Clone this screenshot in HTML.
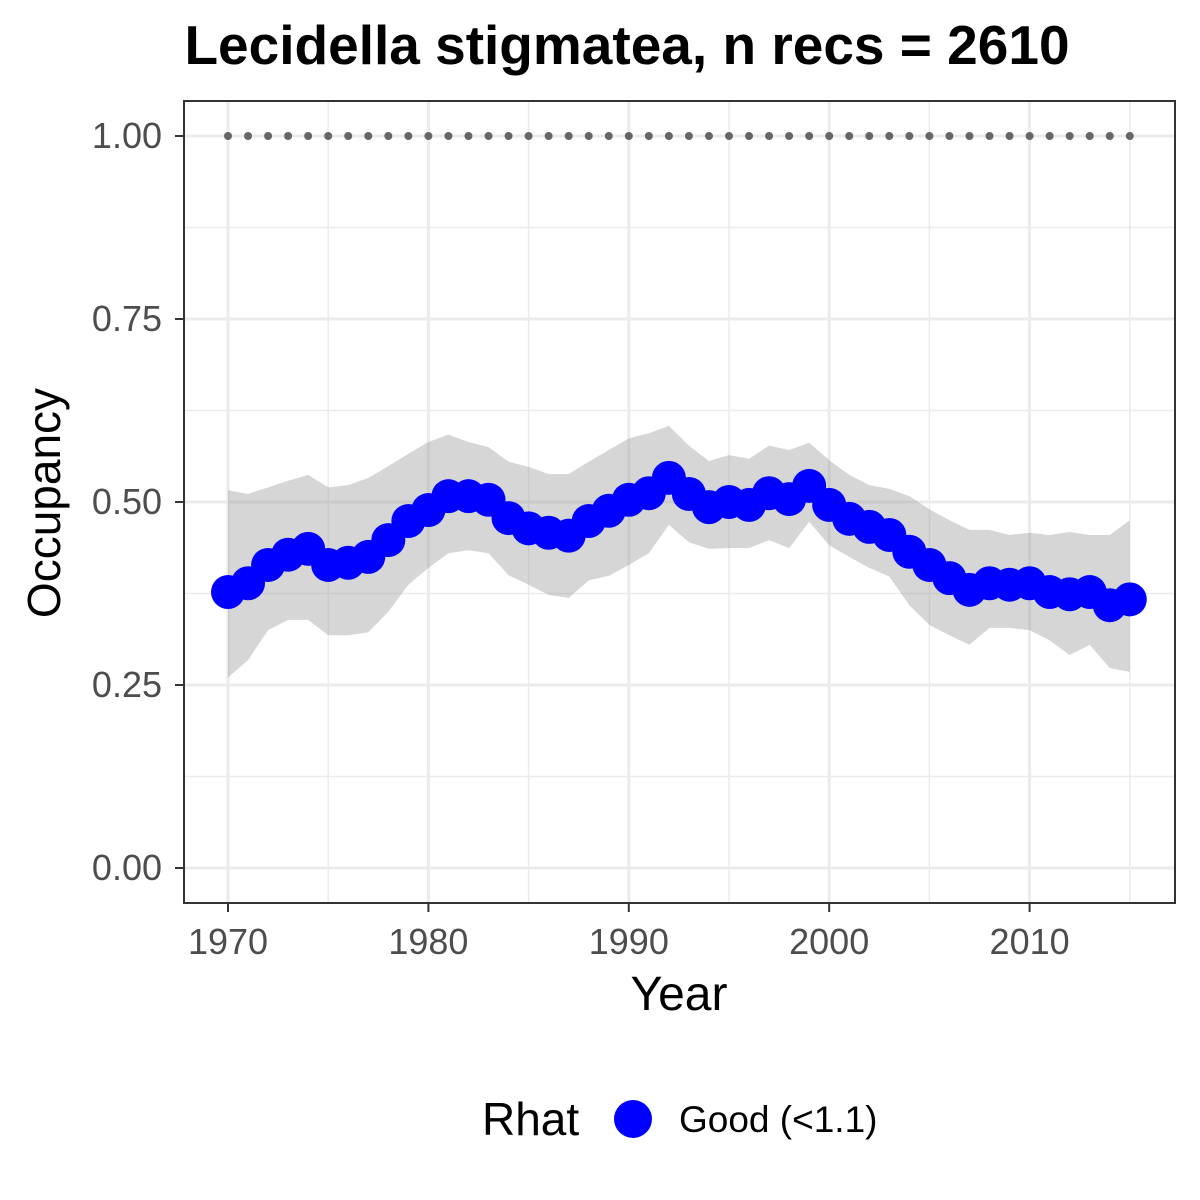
<!DOCTYPE html>
<html><head><meta charset="utf-8"><style>
html,body{margin:0;padding:0;background:#fff;}
svg{display:block;font-family:"Liberation Sans",Arial,sans-serif;}
</style></head><body>
<svg id="chart" width="1200" height="1200" viewBox="0 0 1200 1200">
<rect width="1200" height="1200" fill="#fff"/>
<text x="627" y="64" text-anchor="middle" font-size="55" font-weight="bold" fill="#000">Lecidella stigmatea, n recs = 2610</text>
<g id="grid"></g>
<g id="ribbon"></g>
<g id="marks"></g>
<rect x="184" y="101" width="991" height="802" fill="none" stroke="#333" stroke-width="2"/>
<g id="axes"></g>
<text x="679" y="1010" text-anchor="middle" font-size="48" fill="#000">Year</text>
<text transform="translate(60,503) rotate(-90)" text-anchor="middle" font-size="46" fill="#000">Occupancy</text>
<g>
<text x="482" y="1135" font-size="46" fill="#000">Rhat</text>
<circle cx="633" cy="1119" r="19" fill="#0000ff"/>
<text x="679" y="1132" font-size="37" fill="#000">Good (&lt;1.1)</text>
</g>
</svg>
<script>
const years = [];
for (let y = 1970; y <= 2015; y++) years.push(y);
const occupancy = [0.377,0.389,0.414,0.428,0.436,0.414,0.417,0.425,0.448,0.474,0.489,0.508,0.508,0.503,0.478,0.464,0.458,0.454,0.474,0.488,0.503,0.512,0.533,0.511,0.493,0.5,0.496,0.512,0.504,0.522,0.496,0.477,0.466,0.455,0.432,0.414,0.396,0.38,0.389,0.387,0.389,0.377,0.374,0.377,0.359,0.367];
const upper = [0.516,0.511,0.52,0.529,0.537,0.52,0.523,0.533,0.549,0.566,0.582,0.592,0.582,0.575,0.555,0.548,0.538,0.538,0.555,0.571,0.587,0.594,0.604,0.577,0.556,0.564,0.559,0.577,0.571,0.581,0.557,0.537,0.523,0.518,0.508,0.49,0.475,0.462,0.462,0.455,0.458,0.455,0.459,0.455,0.455,0.475];
const lower = [0.26,0.284,0.325,0.339,0.339,0.318,0.318,0.322,0.35,0.387,0.41,0.43,0.434,0.43,0.4,0.387,0.373,0.369,0.393,0.399,0.414,0.43,0.469,0.445,0.436,0.437,0.437,0.448,0.437,0.473,0.441,0.425,0.41,0.398,0.359,0.332,0.318,0.305,0.328,0.328,0.325,0.311,0.291,0.305,0.273,0.268];
const refLine = 1.0;
const xTicks = [1970,1980,1990,2000,2010];
const yTicks = [0,0.25,0.5,0.75,1.0];
const yTickLabels = ["0.00","0.25","0.50","0.75","1.00"];

const NS = "http://www.w3.org/2000/svg";
const xS = yr => 228 + 20.04 * (yr - 1970);
const yS = v => 868 - 732 * v;
function mk(tag, attrs, parent) {
  const e = document.createElementNS(NS, tag);
  for (const k in attrs) e.setAttribute(k, attrs[k]);
  parent.appendChild(e);
  return e;
}
const grid = document.getElementById('grid');
const ribbon = document.getElementById('ribbon');
const marks = document.getElementById('marks');
const axes = document.getElementById('axes');

for (let i = 0; i < yTicks.length - 1; i++) {
  const v = (yTicks[i] + yTicks[i+1]) / 2;
  const l = mk('line', {x1:184, x2:1175, y1:yS(v), y2:yS(v), stroke:'#ebebeb', 'stroke-width':1.5}, grid);
  
  
}
for (let i = 0; i < xTicks.length; i++) {
  const v = xTicks[i] + 5;
  const l = mk('line', {x1:xS(v), x2:xS(v), y1:101, y2:903, stroke:'#ebebeb', 'stroke-width':1.5}, grid);
  
  
}
yTicks.forEach((v, i) => {
  const l = mk('line', {x1:184, x2:1175, y1:yS(v), y2:yS(v), stroke:'#ebebeb', 'stroke-width':3}, grid);
  
  
  const t = mk('line', {x1:175, x2:184, y1:yS(v), y2:yS(v), stroke:'#333', 'stroke-width':2}, axes);
  
  
  const tx = mk('text', {x:162, y:yS(v)+12, 'text-anchor':'end', 'font-size':36, fill:'#4d4d4d'}, axes);
  tx.textContent = yTickLabels[i];
  
  
});
xTicks.forEach(v => {
  const l = mk('line', {x1:xS(v), x2:xS(v), y1:101, y2:903, stroke:'#ebebeb', 'stroke-width':3}, grid);
  
  
  const t = mk('line', {x1:xS(v), x2:xS(v), y1:903, y2:912, stroke:'#333', 'stroke-width':2}, axes);
  
  
  const tx = mk('text', {x:xS(v), y:954, 'text-anchor':'middle', 'font-size':36, fill:'#4d4d4d'}, axes);
  tx.textContent = String(v);
  
  
});

let d = years.map((y, i) => (i ? 'L' : 'M') + xS(y) + ',' + yS(upper[i])).join(' ');
for (let i = years.length - 1; i >= 0; i--) d += ' L' + xS(years[i]) + ',' + yS(lower[i]);
const rb = mk('path', {d: d + ' Z', fill:'#999', 'fill-opacity':0.4}, ribbon);



const ref = mk('line', {x1:xS(years[0]), x2:xS(years[years.length-1]), y1:yS(refLine), y2:yS(refLine), stroke:'#666', 'stroke-width':8, 'stroke-linecap':'round', 'stroke-dasharray':'0 20.04'}, marks);



const ln = mk('polyline', {points: years.map((y, i) => xS(y) + ',' + yS(occupancy[i])).join(' '), fill:'none', stroke:'#0000ff', 'stroke-width':8}, marks);


years.forEach((y, i) => {
  const c = mk('circle', {cx:xS(y), cy:yS(occupancy[i]), r:17, fill:'#0000ff'}, marks);
  
  
});
</script>
</body></html>
